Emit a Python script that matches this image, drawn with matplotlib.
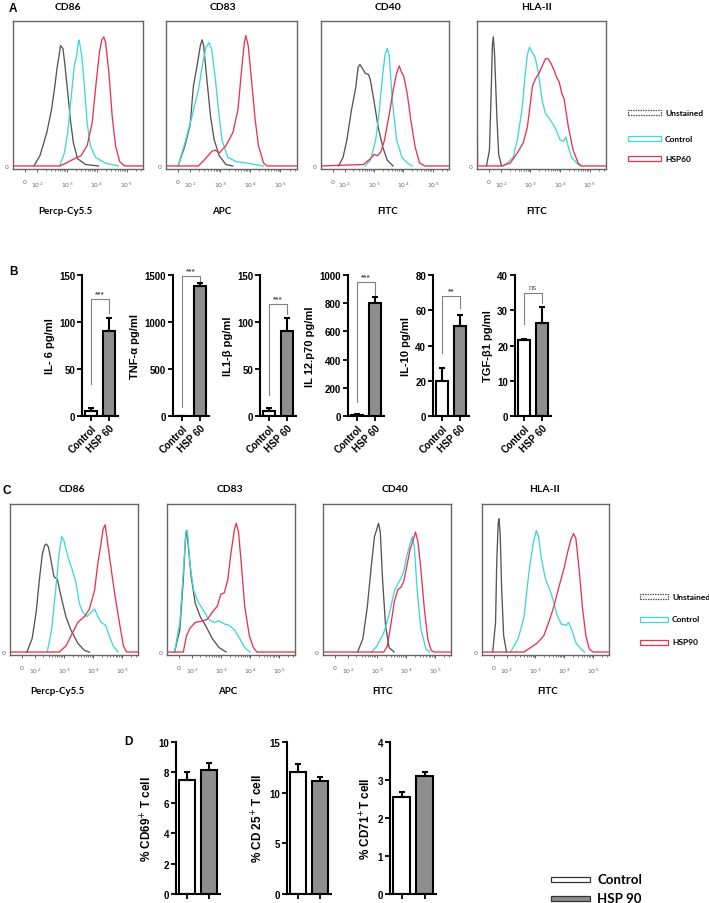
import numpy as np
import matplotlib
matplotlib.use('Agg')
import matplotlib.pyplot as plt
from matplotlib.patches import Rectangle

# ---------------- data ----------------
FLOW_TICK_LABELS = ['0', '$10^2$', '$10^3$', '$10^4$', '$10^5$']
FLOW_MARKERS = ['CD86', 'CD83', 'CD40', 'HLA-II']
FLOW_CHANNELS = ['Percp-Cy5.5', 'APC', 'FITC', 'FITC']
LEGEND_A = ['Unstained', 'Control', 'HSP60']
LEGEND_C = ['Unstained', 'Control', 'HSP90']

# histogram outlines: (log10 fluorescence, relative count)
A_CD86_UNST = [(1.9,0),(2.1,0.07),(2.33,0.23),(2.49,0.39),(2.6,0.55),(2.67,0.67),(2.74,0.76),(2.79,0.83),(2.87,0.81),(2.93,0.71),(3.03,0.51),(3.12,0.32),(3.22,0.16),(3.36,0.05),(3.63,0.01),(4.06,0)]
A_CD86_CTRL = [(2.76,0),(2.92,0.09),(3.03,0.23),(3.14,0.46),(3.25,0.69),(3.33,0.76),(3.39,0.86),(3.41,0.87),(3.5,0.76),(3.59,0.55),(3.68,0.3),(3.79,0.14),(3.96,0.06),(4.28,0.02),(4.72,0)]
A_CD86_HSP = [(1.2,0),(2.76,0),(2.98,0.02),(3.25,0.05),(3.47,0.07),(3.68,0.14),(3.85,0.3),(3.98,0.57),(4.09,0.78),(4.17,0.87),(4.24,0.89),(4.3,0.85),(4.41,0.64),(4.52,0.34),(4.63,0.14),(4.77,0.03),(4.93,0),(5.55,0)]

A_CD83_UNST = [(1.6,0),(1.83,0.14),(2.0,0.28),(2.11,0.55),(2.23,0.69),(2.34,0.83),(2.4,0.87),(2.45,0.83),(2.57,0.57),(2.68,0.34),(2.8,0.18),(2.97,0.07),(3.19,0.01),(3.42,0)]
A_CD83_CTRL = [(1.6,0),(1.83,0.16),(2.06,0.34),(2.28,0.53),(2.42,0.71),(2.53,0.82),(2.63,0.85),(2.72,0.8),(2.83,0.62),(2.94,0.39),(3.06,0.18),(3.25,0.06),(3.53,0.03),(3.88,0.02),(4.16,0.01),(4.44,0)]
A_CD83_HSP = [(1.2,0),(2.28,0),(2.51,0.05),(2.72,0.1),(2.83,0.11),(2.97,0.09),(3.19,0.14),(3.42,0.23),(3.59,0.39),(3.7,0.64),(3.8,0.85),(3.85,0.9),(3.93,0.83),(4.05,0.57),(4.16,0.32),(4.27,0.14),(4.44,0.02),(4.56,0),(5.55,0)]

A_CD40_UNST = [(1.8,0),(1.95,0.06),(2.08,0.18),(2.23,0.38),(2.38,0.54),(2.46,0.68),(2.52,0.7),(2.62,0.67),(2.7,0.64),(2.82,0.63),(2.88,0.59),(3.0,0.45),(3.14,0.27),(3.3,0.13),(3.45,0.04),(3.65,0)]
A_CD40_CTRL = [(2.7,0),(2.88,0.04),(3.06,0.18),(3.18,0.38),(3.3,0.64),(3.38,0.77),(3.45,0.81),(3.52,0.76),(3.62,0.46),(3.77,0.18),(3.95,0.06),(4.13,0.02),(4.31,0)]
A_CD40_HSP = [(1.2,0),(2.64,0.01),(2.88,0.05),(3.0,0.08),(3.12,0.07),(3.24,0.1),(3.36,0.18),(3.54,0.38),(3.65,0.52),(3.77,0.64),(3.86,0.69),(3.93,0.65),(4.01,0.62),(4.13,0.5),(4.25,0.32),(4.4,0.13),(4.55,0.02),(4.73,0),(5.55,0)]

A_HLA_UNST = [(1.52,0),(1.62,0.11),(1.67,0.45),(1.72,0.84),(1.75,0.89),(1.79,0.78),(1.87,0.34),(1.93,0.08),(2.03,0)]
A_HLA_CTRL = [(2.1,0),(2.22,0.02),(2.42,0.06),(2.56,0.18),(2.71,0.38),(2.83,0.64),(2.9,0.77),(2.97,0.82),(3.07,0.78),(3.16,0.75),(3.27,0.64),(3.4,0.45),(3.51,0.36),(3.67,0.32),(3.87,0.25),(4.0,0.18),(4.11,0.17),(4.2,0.2),(4.28,0.13),(4.39,0.06),(4.56,0.02),(4.67,0)]
A_HLA_HSP = [(1.205,0.43),(1.22,0),(2.03,0),(2.32,0.02),(2.56,0.09),(2.76,0.16),(2.9,0.27),(3.07,0.55),(3.17,0.6),(3.29,0.64),(3.4,0.69),(3.51,0.74),(3.6,0.74),(3.69,0.71),(3.8,0.66),(3.89,0.61),(3.97,0.58),(4.06,0.5),(4.14,0.46),(4.28,0.27),(4.44,0.11),(4.61,0.02),(4.72,0),(5.55,0)]

C_CD86_UNST = [(1.73,0),(1.91,0.09),(2.05,0.27),(2.16,0.49),(2.26,0.66),(2.34,0.72),(2.4,0.73),(2.47,0.71),(2.55,0.63),(2.66,0.51),(2.78,0.49),(2.9,0.38),(3.07,0.24),(3.24,0.15),(3.48,0.06),(3.71,0.01),(3.88,0)]
C_CD86_CTRL = [(2.43,0),(2.58,0.15),(2.72,0.42),(2.84,0.67),(2.93,0.78),(3.01,0.75),(3.13,0.65),(3.28,0.56),(3.42,0.47),(3.53,0.33),(3.65,0.27),(3.79,0.24),(3.94,0.27),(4.06,0.29),(4.17,0.24),(4.29,0.2),(4.44,0.18),(4.56,0.11),(4.7,0.04),(4.87,0)]
C_CD86_HSP = [(1.15,0),(2.84,0),(3.07,0.04),(3.3,0.13),(3.48,0.2),(3.71,0.24),(3.88,0.29),(4.06,0.42),(4.17,0.6),(4.27,0.72),(4.35,0.83),(4.42,0.86),(4.49,0.76),(4.6,0.6),(4.76,0.38),(4.91,0.2),(5.05,0.04),(5.16,0),(5.55,0)]

C_CD83_UNST = [(1.41,0),(1.59,0.15),(1.71,0.49),(1.79,0.78),(1.82,0.82),(1.88,0.72),(1.98,0.51),(2.12,0.33),(2.29,0.24),(2.47,0.18),(2.71,0.09),(2.94,0.03),(3.18,0)]
C_CD83_CTRL = [(1.41,0),(1.59,0.2),(1.71,0.54),(1.8,0.81),(1.85,0.82),(1.94,0.6),(2.06,0.42),(2.24,0.33),(2.41,0.28),(2.59,0.22),(2.76,0.2),(2.94,0.21),(3.12,0.19),(3.29,0.18),(3.47,0.15),(3.65,0.09),(3.82,0.03),(4.0,0)]
C_CD83_HSP = [(1.15,0),(1.71,0),(1.82,0.11),(1.94,0.16),(2.12,0.2),(2.35,0.21),(2.53,0.22),(2.71,0.27),(2.88,0.31),(3.0,0.39),(3.12,0.4),(3.24,0.49),(3.35,0.67),(3.47,0.83),(3.53,0.87),(3.61,0.81),(3.71,0.58),(3.82,0.31),(3.98,0.11),(4.12,0.03),(4.24,0),(5.55,0)]

C_CD40_UNST = [(2.34,0),(2.52,0.09),(2.67,0.3),(2.82,0.6),(2.92,0.78),(3.0,0.83),(3.06,0.87),(3.12,0.81),(3.2,0.48),(3.3,0.18),(3.42,0.03),(3.6,0)]
C_CD40_CTRL = [(2.82,0),(3.0,0.04),(3.24,0.13),(3.42,0.25),(3.6,0.41),(3.72,0.46),(3.84,0.5),(3.93,0.55),(4.02,0.64),(4.14,0.73),(4.22,0.78),(4.29,0.71),(4.39,0.41),(4.51,0.16),(4.69,0.02),(4.81,0)]
C_CD40_HSP = [(1.15,0),(3.24,0),(3.36,0.04),(3.48,0.18),(3.6,0.34),(3.72,0.42),(3.84,0.44),(3.93,0.48),(4.02,0.57),(4.14,0.69),(4.24,0.75),(4.33,0.81),(4.41,0.75),(4.51,0.57),(4.63,0.3),(4.75,0.09),(4.87,0.01),(4.99,0),(5.55,0)]

C_HLA_UNST = [(1.52,0),(1.62,0.2),(1.66,0.6),(1.71,0.87),(1.74,0.9),(1.78,0.8),(1.83,0.43),(1.9,0.11),(2.0,0)]
C_HLA_CTRL = [(2.14,0),(2.4,0.09),(2.6,0.23),(2.77,0.53),(2.92,0.73),(3.03,0.82),(3.11,0.78),(3.2,0.64),(3.34,0.5),(3.52,0.41),(3.63,0.34),(3.75,0.25),(3.89,0.19),(4.06,0.18),(4.15,0.2),(4.24,0.16),(4.41,0.06),(4.58,0.02),(4.7,0)]
C_HLA_HSP = [(1.15,0),(2.6,0),(2.83,0.03),(3.06,0.06),(3.29,0.11),(3.46,0.2),(3.63,0.3),(3.8,0.43),(4.0,0.57),(4.11,0.67),(4.23,0.76),(4.32,0.8),(4.4,0.77),(4.52,0.55),(4.63,0.3),(4.75,0.11),(4.87,0.02),(5.0,0),(5.55,0)]

# panel B: cytokines (pg/ml)
B_LABELS = ['IL- 6 pg/ml', 'TNF-α pg/ml', 'IL1-β pg/ml', 'IL 12.p70 pg/ml', 'IL-10 pg/ml', 'TGF-β1 pg/ml']
B_GROUPS = ['Control', 'HSP 60']
B_CONTROL = [5, 5, 5, 8, 20, 21.5]
B_CONTROL_ERR = [4, 0, 4, 3, 7, 0.4]
B_HSP60 = [90, 1380, 90, 800, 51, 26.5]
B_HSP60_ERR = [14, 40, 14, 43, 6.5, 4.5]
B_YMAX = [150, 1500, 150, 1000, 80, 40]
B_YSTEP = [50, 500, 50, 200, 20, 10]
B_SIG = ['***', '***', '***', '***', '**', 'ns']
B_BRACKET_TOP = [125, 1490, 119, 950, 68, 35]
B_BRACKET_LEFT = [34, 100, 22, 100, 36, 26]
B_BRACKET_RIGHT = [110, 1430, 108, 860, 61, 32]

# panel D: T-cell activation (%)
D_LABELS = ['% CD69$^{+}$ T cell', '% CD 25$^{+}$ T cell', '% CD71$^{+}$T cell']
D_GROUPS = ['Control', 'HSP 90']
D_CONTROL = [7.5, 12.0, 2.55]
D_CONTROL_ERR = [0.5, 0.85, 0.13]
D_HSP90 = [8.15, 11.2, 3.1]
D_HSP90_ERR = [0.5, 0.35, 0.1]
D_YMAX = [10, 15, 4]
D_YSTEP = [2, 5, 1]

# ---------------- style ----------------
W, H = 709, 904
fig = plt.figure(figsize=(W / 100, H / 100), dpi=100)
FLOW_FONT = ['Lato', 'DejaVu Sans']
BAR_FONT = ['Liberation Sans', 'DejaVu Sans']
COL_UNST = '#555555'
COL_CTRL = '#3fd8d8'
COL_HSP = '#e8354d'
BAR_GREY = '#8e8e8e'


def px_axes(l, t, r, b):
    return fig.add_axes([l / W, 1 - b / H, (r - l) / W, (b - t) / H])


def ftext(x, y, s, **kw):
    return fig.text(x / W, 1 - y / H, s, **kw)


def draw_flow(box, curves, xlim, zero_pos, ylow):
    l, t, r, b = box
    ax = px_axes(l, t, r, b)
    for pts, col in zip(curves, [COL_UNST, COL_CTRL, COL_HSP]):
        xs, ys = zip(*pts)
        ax.plot(xs, ys, color=col, lw=0.95, solid_joinstyle='round')
    ax.set_xlim(*xlim)
    ax.set_ylim(ylow, 1.0)
    ax.set_xticks([zero_pos, 2, 3, 4, 5])
    ax.set_xticklabels(FLOW_TICK_LABELS, fontsize=4.5, color='#666')
    minor = [np.log10(k) + d for d in (2, 3, 4, 5) for k in range(2, 10)
             if np.log10(k) + d < xlim[1]]
    ax.set_xticks(minor, minor=True)
    ax.set_yticks([0])
    ax.set_yticklabels(['0'], fontsize=4.5, color='#666')
    ax.tick_params(axis='x', which='major', length=2.5, width=0.6, color='#444', pad=5)
    ax.tick_params(axis='x', which='minor', length=1.5, width=0.5, color='#444')
    ax.tick_params(axis='y', length=0, pad=3)
    for s in ax.spines.values():
        s.set_color('#666')
        s.set_linewidth(1.0)
    return ax


def draw_bars(box, ctrl, ctrl_err, trt, trt_err, ymax, ystep, ylabel, groups,
              show_xlabels, bar_w=0.72):
    l, t, r, b = box
    ax = px_axes(l, t, r, b)
    ax.bar([0, 1], [ctrl, trt], width=bar_w, color=['white', BAR_GREY],
           edgecolor='black', linewidth=1.5, zorder=2)
    ax.errorbar([0, 1], [ctrl, trt], yerr=[[0, 0], [ctrl_err, trt_err]], fmt='none',
                ecolor='black', elinewidth=1.5, capsize=2.5, capthick=1.5, zorder=3)
    ax.set_xlim(-0.5, 1.5)
    ax.set_ylim(0, ymax)
    ax.set_yticks(np.arange(0, ymax + ystep / 2, ystep))
    for lab in ax.get_yticklabels():
        lab.set_fontfamily(BAR_FONT)
        lab.set_fontweight('bold')
        lab.set_fontsize(7)
    ax.set_xticks([0, 1])
    if show_xlabels:
        ax.set_xticklabels(groups, rotation=45, ha='right', rotation_mode='anchor',
                           fontsize=7, fontweight='bold', family=BAR_FONT)
    else:
        ax.set_xticklabels(['', ''])
    ax.spines['top'].set_visible(False)
    ax.spines['right'].set_visible(False)
    ax.spines['left'].set_linewidth(1.5)
    ax.spines['bottom'].set_linewidth(1.5)
    ax.tick_params(axis='both', length=3.5, width=1.3, pad=1.5)
    ax.set_ylabel(ylabel, fontsize=8, fontweight='bold', family=BAR_FONT, labelpad=3)
    return ax


# ---------------- panel A ----------------
A_BOXES = [(13, 22, 143, 170), (166, 22, 297, 170), (321, 22, 449, 170), (477, 22, 606, 170)]
A_TITLE_X = [68, 223, 388, 537]
A_CHAN_X = [65, 222, 388, 537]
A_CURVES = [(A_CD86_UNST, A_CD86_CTRL, A_CD86_HSP), (A_CD83_UNST, A_CD83_CTRL, A_CD83_HSP),
            (A_CD40_UNST, A_CD40_CTRL, A_CD40_HSP), (A_HLA_UNST, A_HLA_CTRL, A_HLA_HSP)]
for i, (box, curves) in enumerate(zip(A_BOXES, A_CURVES)):
    draw_flow(box, curves, (1.2, 5.55), 1.6, -0.021)
    ftext(A_TITLE_X[i], 8, FLOW_MARKERS[i], ha='center', va='center', fontsize=7.5,
          fontweight='bold', family=FLOW_FONT)
    ftext(A_CHAN_X[i], 212, FLOW_CHANNELS[i], ha='center', va='center', fontsize=7,
          fontweight='bold', family=FLOW_FONT)
ftext(13, 9, 'A', ha='center', va='center', fontsize=8.5, fontweight='bold', family=BAR_FONT)

# ---------------- panel C ----------------
C_BOXES = [(10, 505, 138, 656), (167, 505, 295, 656), (323, 505, 451, 656), (482, 505, 609, 656)]
C_TITLE_X = [72, 230, 395, 545]
C_CHAN_X = [57, 228, 383, 548]
C_CURVES = [(C_CD86_UNST, C_CD86_CTRL, C_CD86_HSP), (C_CD83_UNST, C_CD83_CTRL, C_CD83_HSP),
            (C_CD40_UNST, C_CD40_CTRL, C_CD40_HSP), (C_HLA_UNST, C_HLA_CTRL, C_HLA_HSP)]
for i, (box, curves) in enumerate(zip(C_BOXES, C_CURVES)):
    draw_flow(box, curves, (1.15, 5.55), 1.55, -0.02)
    ftext(C_TITLE_X[i], 490, FLOW_MARKERS[i], ha='center', va='center', fontsize=7.5,
          fontweight='bold', family=FLOW_FONT)
    ftext(C_CHAN_X[i], 692, FLOW_CHANNELS[i], ha='center', va='center', fontsize=7,
          fontweight='bold', family=FLOW_FONT)
ftext(7, 491, 'C', ha='center', va='center', fontsize=8.5, fontweight='bold', family=BAR_FONT)


# flow legends
def flow_legend(x0, x1, xt, ys, labels):
    styles = [dict(ec=COL_UNST, ls=(0, (1.2, 0.8))), dict(ec=COL_CTRL, ls='-'), dict(ec=COL_HSP, ls='-')]
    for y, lab, st in zip(ys, labels, styles):
        fig.patches.append(Rectangle((x0 / W, 1 - (y + 2.5) / H), (x1 - x0) / W, 5 / H,
                                     transform=fig.transFigure, fc='white', lw=0.9, **st))
        ftext(xt, y, lab, ha='left', va='center', fontsize=6, fontweight='bold', family=FLOW_FONT)


flow_legend(628, 661, 665, [113, 139, 159], LEGEND_A)
flow_legend(640, 668, 672, [597, 620, 643], LEGEND_C)

# ---------------- panel B ----------------
B_LEFTS = [82, 173, 260, 348, 433, 515]
for i, left in enumerate(B_LEFTS):
    ax = draw_bars((left, 276, left + 36, 417), B_CONTROL[i], B_CONTROL_ERR[i], B_HSP60[i],
                   B_HSP60_ERR[i], B_YMAX[i], B_YSTEP[i], B_LABELS[i], B_GROUPS, True)
    top = B_BRACKET_TOP[i]
    ax.plot([0, 0, 1, 1], [B_BRACKET_LEFT[i], top, top, B_BRACKET_RIGHT[i]],
            color='#808080', lw=0.8, clip_on=False, zorder=1)
    ax.text(0.5, top + B_YMAX[i] * 0.012, B_SIG[i], ha='center', va='bottom',
            fontsize=6 if B_SIG[i] != 'ns' else 5.5, color='#555', family=BAR_FONT,
            fontweight='bold' if B_SIG[i] != 'ns' else 'normal')
ftext(13, 272, 'B', ha='center', va='center', fontsize=8.5, fontweight='bold', family=BAR_FONT)

# ---------------- panel D ----------------
D_BOXES = [(176, 743, 220, 895), (287, 743, 331, 895), (390, 743, 436, 895)]
for i, box in enumerate(D_BOXES):
    ax = draw_bars(box, D_CONTROL[i], D_CONTROL_ERR[i], D_HSP90[i], D_HSP90_ERR[i],
                   D_YMAX[i], D_YSTEP[i], D_LABELS[i], D_GROUPS, False)
    ax.yaxis.label.set_fontsize(8.5)
ftext(128, 742, 'D', ha='center', va='center', fontsize=8.5, fontweight='bold', family=BAR_FONT)

# D legend
for y, lab, fc in zip([880, 899], D_GROUPS, ['white', BAR_GREY]):
    fig.patches.append(Rectangle((551 / W, 1 - (y + 2.5) / H), 39 / W, 5 / H,
                                 transform=fig.transFigure, fc=fc, ec='#333', lw=0.9))
    ftext(597, y, lab, ha='left', va='center', fontsize=9.5, fontweight='bold', family=FLOW_FONT)

fig.savefig('out.png', dpi=100)
